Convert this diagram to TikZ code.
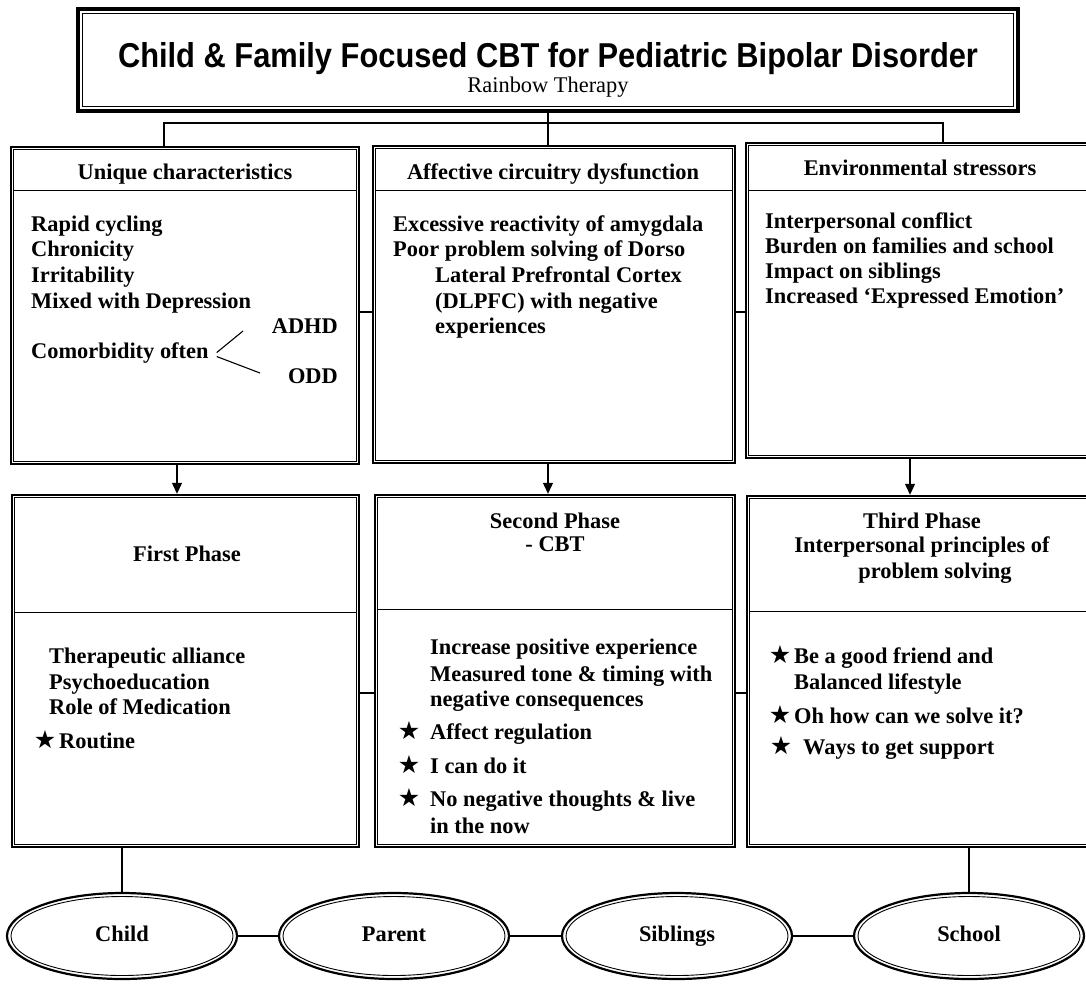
\documentclass[tikz,border=0pt]{standalone}
\usepackage{fontspec}
\setmainfont{Liberation Serif}
\newfontfamily\titlefont{Liberation Sans}
\newfontfamily\symfont{DejaVu Sans}
\usetikzlibrary{arrows.meta,calc,shapes.geometric}
\tikzset{
  every node/.style={inner sep=0pt, font=\fontsize{22.4}{26}\selectfont\bfseries},
  bx/.style={draw, rectangle, line width=2.4pt},
  innerline/.style={line width=1.1pt},
  hline/.style={line width=1.1pt},
  conn/.style={line width=1.1pt},
  arr/.style={line width=1.1pt, -{Triangle[length=11pt,width=10pt]}},
  oval/.style={draw, ellipse, line width=2.2pt, minimum width=230pt, minimum height=86pt, text height=15pt, text depth=5pt},
  txt/.style={anchor=base west},
  hdr/.style={anchor=base},
  starmark/.style={anchor=base, font=\fontsize{25}{26}\selectfont\symfont},
}
\begin{document}
\begin{tikzpicture}[x=1pt,y=-1pt]
\useasboundingbox (0,0) rectangle (1086,983);
\clip (0,0) rectangle (1086,983);

% title
\node[draw, rectangle, line width=4.5pt, minimum width=940pt, minimum height=102pt] (title) at (548,60) {};
\draw[innerline] ([shift={(7,7)}]title.north west) rectangle ([shift={(-7,-7)}]title.south east);
\node[hdr] (ttl) at (548,67) {\scalebox{1}[1.12]{\resizebox{860pt}{!}{\titlefont\bfseries Child \& Family Focused CBT for Pediatric Bipolar Disorder}}};
\node[hdr, font=\fontsize{22.4}{26}\selectfont\mdseries] (sub) at (548,92) {Rainbow Therapy};

% boxes
\node[bx, minimum width=348pt, minimum height=317pt] (b1) at (185,305.5) {};
\node[bx, minimum width=362pt, minimum height=317pt] (b2) at (554,304.5) {};
\node[bx, minimum width=349pt, minimum height=315pt] (b3) at (920.5,300.5) {};
\node[bx, minimum width=347pt, minimum height=352pt] (b4) at (185.5,671) {};
\node[bx, minimum width=360pt, minimum height=352pt] (b5) at (555,671) {};
\node[bx, minimum width=348pt, minimum height=351pt] (b6) at (921,671.5) {};
\foreach \n in {b1,b2,b3,b4,b5,b6}
  \draw[innerline] ([shift={(4,4)}]\n.north west) rectangle ([shift={(-4,-4)}]\n.south east);
\foreach \n/\d in {b1/45,b2/46,b3/49,b4/119,b5/116,b6/117}
  \draw[hline] ([shift={(4,\d)}]\n.north west) -- ([shift={(-4,\d)}]\n.north east);

% ovals
\node[oval] (child) at (122,936) {Child};
\node[oval] (parent) at (394,936) {Parent};
\node[oval] (siblings) at (677,936) {Siblings};
\node[oval] (school) at (969,936) {School};
\foreach \n in {child,parent,siblings,school}
  \draw[line width=0.9pt] (\n.center) ellipse [x radius=111pt, y radius=39.5pt];

% connectors
\coordinate (barL) at (164,123);
\coordinate (barR) at (943,123);
\draw[conn] (title.south) -- (title.south |- b2.north);
\draw[conn] (b1.north -| barL) -- (barL) -- (barR) -- (b3.north -| barR);
\coordinate (rowA) at (0,312);
\coordinate (rowB) at (0,693);
\draw[conn] (b1.east |- rowA) -- (b2.west |- rowA);
\draw[conn] (b2.east |- rowA) -- (b3.west |- rowA);
\draw[conn] (b4.east |- rowB) -- (b5.west |- rowB);
\draw[conn] (b5.east |- rowB) -- (b6.west |- rowB);
\draw[arr] (b1.south -| 177,0) -- (b4.north -| 177,0);
\draw[arr] (b2.south -| 548,0) -- (b5.north -| 548,0);
\draw[arr] (b3.south -| 910,0) -- (b6.north -| 910,0);
\draw[conn] (b4.south -| child) -- (child.north);
\draw[conn] (b6.south -| school) -- (school.north);
\draw[conn] (child.east) -- (parent.west);
\draw[conn] (parent.east) -- (siblings.west);
\draw[conn] (siblings.east) -- (school.west);

% box 1
\node[hdr] (h1) at (185,179) {Unique characteristics};
\node[txt] (u1) at (31,231) {Rapid cycling};
\node[txt] (u2) at (31,256) {Chronicity};
\node[txt] (u3) at (31,282) {Irritability};
\node[txt] (u4) at (31,308) {Mixed with Depression};
\node[txt] (u5) at (31,358) {Comorbidity often};
\node[anchor=base east] (adhd) at (338,333) {ADHD};
\node[anchor=base east] (odd) at (338,383) {ODD};
\coordinate (cmA) at (243,331);
\coordinate (cmB) at (260,373);
\draw[conn] ($(u5.east)+(8,0)$) -- (cmA);
\draw[conn] ($(u5.east)+(8,4)$) -- (cmB);

% box 2
\node[hdr] (h2) at (553,179) {Affective circuitry dysfunction};
\node[txt] (a1) at (393,231) {Excessive reactivity of amygdala};
\node[txt] (a2) at (393,256) {Poor problem solving of Dorso};
\node[txt] (a3) at (435,282) {Lateral Prefrontal Cortex};
\node[txt] (a4) at (435,308) {(DLPFC) with negative};
\node[txt] (a5) at (435,333) {experiences};

% box 3
\node[hdr] (h3) at (920,175) {Environmental stressors};
\node[txt] (e1) at (765,228) {Interpersonal conflict};
\node[txt] (e2) at (765,253) {Burden on families and school};
\node[txt] (e3) at (765,278) {Impact on siblings};
\node[txt] (e4) at (765,303) {Increased ‘Expressed Emotion’};

% box 4
\node[hdr] (h4) at (187,561) {First Phase};
\node[txt] (f1) at (49,663) {Therapeutic alliance};
\node[txt] (f2) at (49,689) {Psychoeducation};
\node[txt] (f3) at (49,714) {Role of Medication};
\node[starmark] (fs) at (45,748) {★};
\node[txt] (f4) at (59,748) {Routine};

% box 5
\node[hdr] (h5a) at (555,528) {Second Phase};
\node[hdr] (h5b) at (555,551) {- CBT};
\node[txt] (c1) at (430,654) {Increase positive experience};
\node[txt] (c2) at (430,681) {Measured tone \& timing with};
\node[txt] (c3) at (430,706) {negative consequences};
\node[starmark] (cs1) at (409,739) {★};
\node[txt] (c4) at (430,739) {Affect regulation};
\node[starmark] (cs2) at (409,773) {★};
\node[txt] (c5) at (430,773) {I can do it};
\node[starmark] (cs3) at (409,806) {★};
\node[txt] (c6) at (430,806) {No negative thoughts \& live};
\node[txt] (c7) at (430,833) {in the now};

% box 6
\node[hdr] (h6a) at (922,528) {Third Phase};
\node[hdr] (h6b) at (922,552) {Interpersonal principles of};
\node[hdr] (h6c) at (935,578) {problem solving};
\node[starmark] (ts1) at (780,663) {★};
\node[txt] (t1) at (794,663) {Be a good friend and};
\node[txt] (t2) at (794,689) {Balanced lifestyle};
\node[starmark] (ts2) at (780,723) {★};
\node[txt] (t3) at (794,723) {Oh how can we solve it?};
\node[starmark] (ts3) at (781,754) {★};
\node[txt] (t4) at (803,754) {Ways to get support};
\end{tikzpicture}
\end{document}
